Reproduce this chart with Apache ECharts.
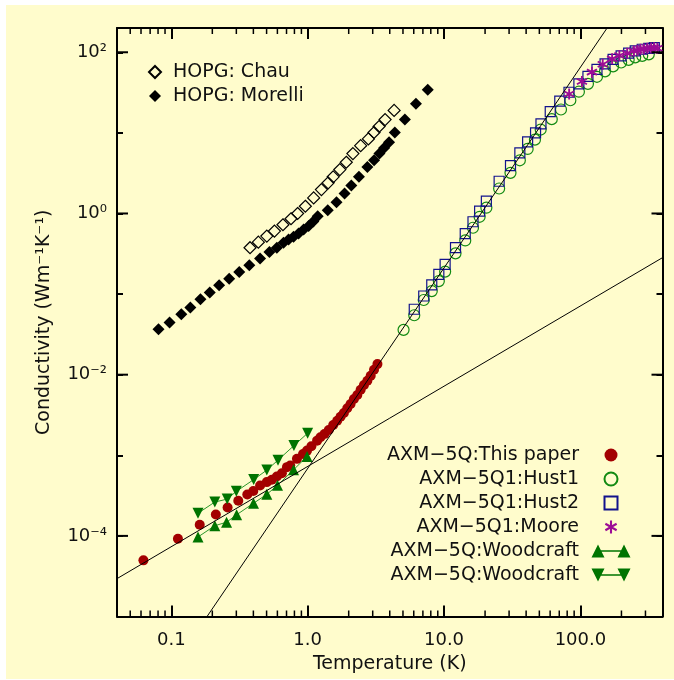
<!DOCTYPE html>
<html>
<head>
<meta charset="utf-8">
<script src="https://cdn.jsdelivr.net/npm/echarts@6/dist/echarts.min.js"></script>
<style>
  html, body { margin: 0; padding: 0; background: #ffffff; }
  #panel { position: absolute; left: 6px; top: 5px; width: 668px; height: 674px; background: #fffccc; }
  #chart { position: absolute; left: 0; top: 0; width: 674px; height: 680px; }
</style>
</head>
<body>
<div id="panel"></div>
<div id="chart"></div>
<script>
// Thermal conductivity of graphite samples versus temperature, log-log.
// Each series: [temperature (K), conductivity (W m^-1 K^-1)]

const hopgChau = [
  [0.378, 0.376], [0.435, 0.441], [0.502, 0.524], [0.571, 0.604], [0.659, 0.725],
  [0.755, 0.86], [0.844, 1.0], [0.962, 1.23], [1.107, 1.56], [1.262, 1.98],
  [1.414, 2.40], [1.539, 2.85], [1.722, 3.50], [1.92, 4.32], [2.147, 5.53],
  [2.447, 6.94], [2.789, 8.41], [3.067, 10.1], [3.339, 12.0], [3.698, 14.6],
  [4.306, 19.0]
];

const hopgMorelli = [
  [0.0806, 0.0367], [0.0972, 0.0444], [0.1185, 0.0562], [0.138, 0.0681], [0.1637, 0.0862],
  [0.1916, 0.1044], [0.2244, 0.1285], [0.266, 0.1555], [0.315, 0.1877], [0.3735, 0.2272],
  [0.448, 0.2773], [0.5245, 0.332], [0.5945, 0.376], [0.665, 0.434], [0.7245, 0.477],
  [0.788, 0.515], [0.858, 0.566], [0.934, 0.634], [1.017, 0.697], [1.10, 0.796],
  [1.185, 0.926], [1.404, 1.098], [1.628, 1.38], [1.865, 1.77], [2.09, 2.22],
  [2.377, 2.85], [2.742, 3.78], [3.07, 4.57], [3.362, 5.53], [3.635, 6.5],
  [3.955, 7.63], [4.357, 10.1], [5.164, 14.6], [6.227, 23.0], [7.595, 34.2]
];

const thisPaper = [
  [0.0625, 4.97e-5], [0.1119, 9.23e-5], [0.1617, 1.376e-4], [0.2122, 1.845e-4], [0.2588, 2.254e-4],
  [0.31, 2.73e-4], [0.361, 3.26e-4], [0.3997, 3.6e-4], [0.448, 4.22e-4], [0.502, 4.65e-4],
  [0.5464, 4.96e-4], [0.5945, 5.45e-4], [0.6475, 6.0e-4], [0.705, 7.13e-4], [0.7455, 7.46e-4],
  [0.835, 9.03e-4], [0.925, 1.04e-3], [0.99, 1.143e-3], [1.065, 1.297e-3], [1.173, 1.52e-3],
  [1.241, 1.675e-3], [1.328, 1.84e-3], [1.428, 2.06e-3], [1.539, 2.377e-3], [1.647, 2.687e-3],
  [1.743, 3.01e-3], [1.843, 3.35e-3], [1.952, 3.83e-3], [2.065, 4.33e-3], [2.184, 4.99e-3],
  [2.314, 5.59e-3], [2.447, 6.5e-3], [2.588, 7.43e-3], [2.742, 8.4e-3], [2.9, 9.69e-3],
  [3.067, 0.0115], [3.249, 0.01353]
];

const hust1 = [
  [5.05, 0.036], [6.05, 0.0546], [7.10, 0.0845], [8.13, 0.109], [9.16, 0.145],
  [10.19, 0.19], [12.14, 0.32], [14.31, 0.463], [16.31, 0.665], [18.24, 0.91],
  [20.44, 1.18], [25.36, 2.04], [30.72, 3.19], [35.98, 4.57], [41.02, 6.32],
  [46.42, 8.24], [51.14, 11.0], [61.66, 14.8], [72.06, 19.5], [84.4, 25.4],
  [97.5, 32.4], [113.6, 40.6], [132.3, 49.6], [151.6, 58.0], [173.7, 66.9],
  [198.9, 74.6], [225.9, 80.5], [252.4, 86.5], [284.1, 90.3], [317.3, 94.2]
];

const hust2 = [
  [6.05, 0.0648], [7.10, 0.0947], [8.13, 0.130], [9.16, 0.176], [10.19, 0.234],
  [12.14, 0.376], [14.31, 0.561], [16.31, 0.789], [18.24, 1.07], [20.44, 1.42],
  [25.36, 2.51], [30.72, 3.93], [35.98, 5.64], [41.02, 7.72], [46.9, 9.97],
  [51.4, 12.9], [60.1, 18.3], [70.6, 24.7], [82.5, 31.9], [97.5, 40.6],
  [113.6, 50.3], [132.3, 61.4], [151.6, 71.8], [173.7, 81.7], [198.9, 90.3],
  [225.9, 97.5], [252.4, 104], [284.1, 109], [317.3, 112], [348.3, 114]
];

const moore = [
  [82.7, 30.3], [102.6, 43.4], [121.5, 56.7], [145.8, 71.2], [170.8, 82.8],
  [193.2, 91.0], [220.3, 97.5], [246.8, 104], [262, 106], [276.1, 109],
  [292, 110], [309.4, 112], [330, 113], [346.7, 114], [366.4, 112]
];

const woodcraftUp = [
  [0.157, 9.69e-5], [0.2086, 1.337e-4], [0.2544, 1.479e-4], [0.3016, 1.83e-4], [0.401, 2.54e-4],
  [0.502, 3.28e-4], [0.601, 4.24e-4], [0.788, 6.6e-4], [0.99, 9.69e-4]
];

const woodcraftDown = [
  [0.157, 1.91e-4], [0.2086, 2.63e-4], [0.257, 2.86e-4], [0.3, 3.57e-4], [0.402, 4.99e-4],
  [0.502, 6.56e-4], [0.606, 8.7e-4], [0.793, 1.318e-3], [1.0, 1.88e-3]
];

// Power-law guide lines, given by their end points
const fitLinear = [[0.04, 2.95e-5], [400, 0.283]];
const fitSteep = [[0.183, 1e-5], [157, 200]];

// Axis ranges and ticks
const xRange = [0.04, 400];
const yRange = [1e-5, 200];
const xTickValues = [0.1, 1, 10, 100];
const xTickLabels = ['0.1', '1.0', '10.0', '100.0'];
const xMinorTicks = [0.05, 0.06, 0.07, 0.08, 0.09,
  0.2, 0.3, 0.4, 0.5, 0.6, 0.7, 0.8, 0.9,
  2, 3, 4, 5, 6, 7, 8, 9,
  20, 30, 40, 50, 60, 70, 80, 90,
  200, 300];
const yLabelExps = [2, 0, -2, -4];
const yTickLabels = ['10²', '10⁰', '10⁻²', '10⁻⁴'];

const legendLabels = {
  chau: 'HOPG: Chau',
  morelli: 'HOPG: Morelli',
  paper: 'AXM−5Q:This paper',
  hust1: 'AXM−5Q1:Hust1',
  hust2: 'AXM−5Q1:Hust2',
  moore: 'AXM−5Q1:Moore',
  wcUp: 'AXM−5Q:Woodcraft',
  wcDown: 'AXM−5Q:Woodcraft'
};

const FONT = 'DejaVu Sans';
const TEXT = '#111111';

// Marker shapes
const diamondPath = 'path://M50 0L100 50L50 100L0 50Z';
const squarePath = 'path://M0 0L100 0L100 100L0 100Z';
const starPath = 'path://M42 0L58 0L58 100L42 100Z' +
  'M2.7 31.9L10.7 18.1L97.3 68.1L89.3 81.9Z' +
  'M10.7 81.9L2.7 68.1L89.3 18.1L97.3 31.9Z';
const upPairPath = 'path://M0 100L50 0L100 100Z M50 44L250 44L250 56L50 56Z M200 100L250 0L300 100Z';
const downPairPath = 'path://M0 0L100 0L50 100Z M50 44L250 44L250 56L50 56Z M200 0L300 0L250 100Z';

function isDecade(v) {
  const e = Math.log10(v);
  return Math.abs(e - Math.round(e)) < 1e-6;
}

function xLabel(v) {
  for (let i = 0; i < xTickValues.length; i++) {
    if (Math.abs(v / xTickValues[i] - 1) < 1e-6) return xTickLabels[i];
  }
  return '';
}

function yLabel(v) {
  if (!isDecade(v)) return '';
  const i = yLabelExps.indexOf(Math.round(Math.log10(v)));
  return i >= 0 ? yTickLabels[i] : '';
}

// Minor x ticks on bottom and top frame
function renderXMinor(params, api) {
  const x = api.value(0);
  const b = api.coord([x, yRange[0]]);
  const t = api.coord([x, yRange[1]]);
  const st = { stroke: '#000', lineWidth: 1.5 };
  return {
    type: 'group',
    children: [
      { type: 'line', shape: { x1: b[0], y1: b[1], x2: b[0], y2: b[1] - 6 }, style: st },
      { type: 'line', shape: { x1: t[0], y1: t[1], x2: t[0], y2: t[1] + 6 }, style: st }
    ]
  };
}

// Long y ticks at labelled decades on left and right frame
function renderYMajor(params, api) {
  const y = api.value(1);
  const l = api.coord([xRange[0], y]);
  const r = api.coord([xRange[1], y]);
  const st = { stroke: '#000', lineWidth: 2 };
  return {
    type: 'group',
    children: [
      { type: 'line', shape: { x1: l[0], y1: l[1], x2: l[0] + 11, y2: l[1] }, style: st },
      { type: 'line', shape: { x1: r[0], y1: r[1], x2: r[0] - 11, y2: r[1] }, style: st }
    ]
  };
}

const axisLineStyle = { color: '#000', width: 2 };

function xAxisCfg(pos, showLabel) {
  return {
    type: 'log', logBase: 10, min: xRange[0], max: xRange[1], position: pos,
    axisLine: { onZero: false, lineStyle: axisLineStyle },
    axisTick: { inside: true, length: 11, lineStyle: { color: '#000', width: 2 } },
    axisLabel: { show: showLabel, formatter: xLabel, fontSize: 18, color: TEXT, fontFamily: FONT, margin: 15 },
    splitLine: { show: false },
    minorTick: { show: false }
  };
}

function yAxisCfg(pos, showLabel) {
  return {
    type: 'log', logBase: 10, min: yRange[0], max: yRange[1], position: pos,
    axisLine: { onZero: false, lineStyle: axisLineStyle },
    axisTick: { inside: true, length: 6, lineStyle: { color: '#000', width: 2 } },
    axisLabel: { show: showLabel, formatter: yLabel, fontSize: 18, color: TEXT, fontFamily: FONT, margin: 10 },
    splitLine: { show: false },
    minorTick: { show: false }
  };
}

const xBottom = xAxisCfg('bottom', true);
xBottom.name = 'Temperature (K)';
xBottom.nameLocation = 'middle';
xBottom.nameGap = 37;
xBottom.nameTextStyle = { fontSize: 19, color: TEXT, fontFamily: FONT };

const yLeft = yAxisCfg('left', true);
yLeft.name = 'Conductivity (Wm⁻¹K⁻¹)';
yLeft.nameLocation = 'middle';
yLeft.nameGap = 63;
yLeft.nameTextStyle = { fontSize: 19, color: TEXT, fontFamily: FONT };

const chart = echarts.init(document.getElementById('chart'), null, { renderer: 'canvas' });

chart.setOption({
  backgroundColor: 'transparent',
  animation: false,
  textStyle: { fontFamily: FONT },
  grid: { left: 117, right: 11.5, top: 28, bottom: 63.5, outerBoundsMode: 'none' },
  xAxis: [xBottom, xAxisCfg('top', false)],
  yAxis: [yLeft, yAxisCfg('right', false)],
  legend: [
    {
      orient: 'vertical', left: 148, top: 62.5, padding: 0,
      itemWidth: 26, itemHeight: 12, itemGap: 5,
      selectedMode: false,
      formatter: n => legendLabels[n],
      textStyle: { fontSize: 19, color: TEXT, fontFamily: FONT },
      data: [
        { name: 'chau', icon: diamondPath },
        { name: 'morelli', icon: diamondPath }
      ]
    },
    {
      orient: 'vertical', right: 43.5, top: 445.5, padding: 0, align: 'right',
      itemWidth: 54, itemHeight: 13, itemGap: 5,
      selectedMode: false,
      formatter: n => legendLabels[n],
      textStyle: { fontSize: 19, color: TEXT, fontFamily: FONT },
      data: [
        'paper', 'hust1',
        { name: 'hust2', icon: squarePath },
        'moore',
        { name: 'wcUp', icon: upPairPath },
        { name: 'wcDown', icon: downPairPath }
      ]
    }
  ],
  series: [
    {
      type: 'custom', name: 'xminor', silent: true, clip: false, z: 5,
      renderItem: renderXMinor,
      data: xMinorTicks.map(v => [v, yRange[0]])
    },
    {
      type: 'custom', name: 'ymajor', silent: true, clip: false, z: 5,
      renderItem: renderYMajor,
      data: yLabelExps.map(e => [xRange[0], Math.pow(10, e)])
    },
    {
      name: 'chau', type: 'scatter', symbol: diamondPath, symbolSize: 12,
      itemStyle: { color: 'transparent', borderColor: '#000', borderWidth: 1.2, opacity: 1 },
      data: hopgChau
    },
    {
      name: 'morelli', type: 'scatter', symbol: diamondPath, symbolSize: 12,
      itemStyle: { color: '#000', opacity: 1 },
      data: hopgMorelli
    },
    {
      name: 'paper', type: 'scatter', symbol: 'circle', symbolSize: 10,
      itemStyle: { color: '#a30000', opacity: 1 },
      data: thisPaper
    },
    {
      name: 'hust1', type: 'scatter', symbol: 'circle', symbolSize: 11,
      itemStyle: { color: 'transparent', borderColor: '#128a12', borderWidth: 1.2, opacity: 1 },
      data: hust1
    },
    {
      name: 'hust2', type: 'scatter', symbol: squarePath, symbolSize: 10,
      itemStyle: { color: 'transparent', borderColor: '#12128c', borderWidth: 1.2, opacity: 1 },
      data: hust2
    },
    {
      name: 'moore', type: 'scatter', symbol: starPath, symbolSize: 11,
      itemStyle: { color: '#9c0c96', opacity: 1 },
      data: moore
    },
    {
      name: 'wcUp', type: 'line', symbol: 'triangle', symbolSize: 11, showSymbol: true,
      lineStyle: { color: '#2a962a', width: 1 },
      itemStyle: { color: '#007400', opacity: 1 },
      data: woodcraftUp
    },
    {
      name: 'wcDown', type: 'line', symbol: 'triangle', symbolRotate: 180, symbolSize: 11, showSymbol: true,
      lineStyle: { color: '#2a962a', width: 1 },
      itemStyle: { color: '#007400', opacity: 1 },
      data: woodcraftDown
    },
    {
      name: 'fitLinear', type: 'line', symbol: 'none', z: 4,
      lineStyle: { color: '#000', width: 1 },
      data: fitLinear
    },
    {
      name: 'fitSteep', type: 'line', symbol: 'none', z: 4,
      lineStyle: { color: '#000', width: 1 },
      data: fitSteep
    }
  ]
});
</script>
</body>
</html>
